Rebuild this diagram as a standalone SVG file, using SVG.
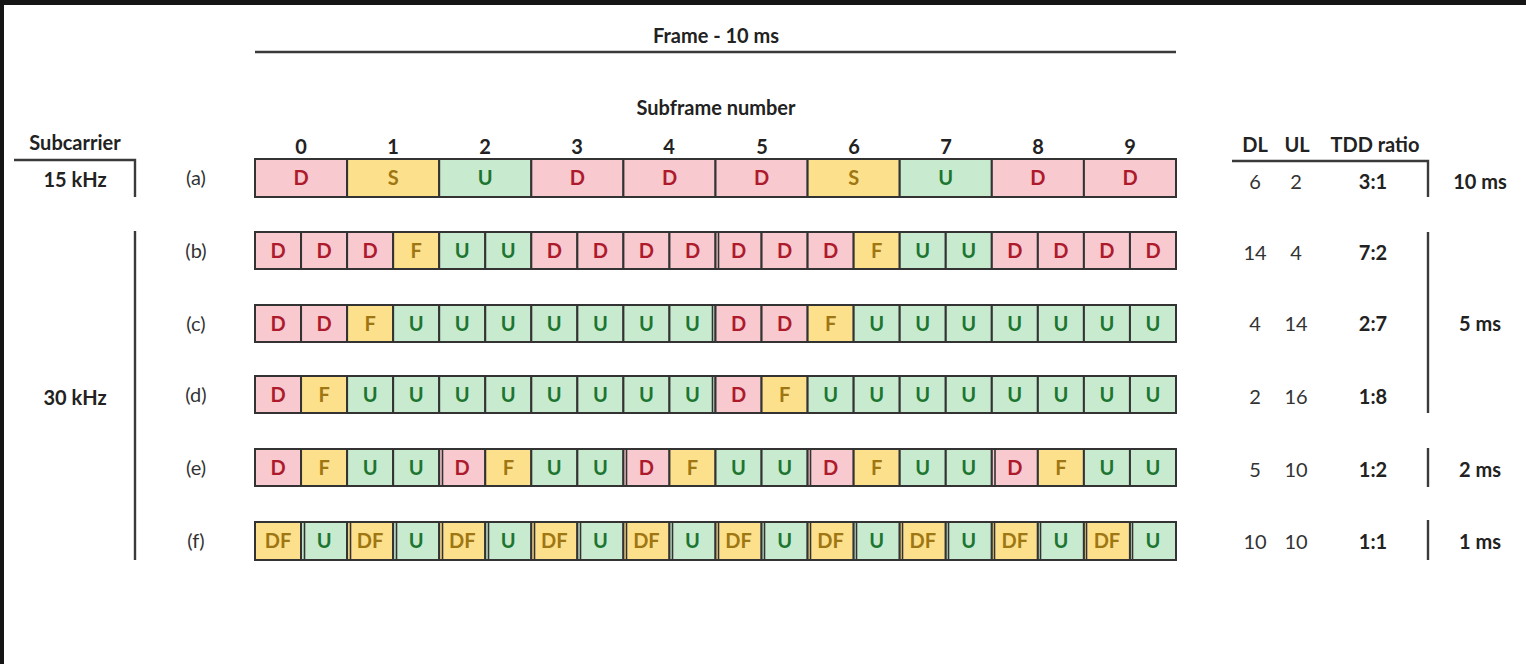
<svg xmlns="http://www.w3.org/2000/svg" width="1526" height="664" viewBox="0 0 1526 664">
<style>
text{font-family:Lato,"Liberation Sans",sans-serif;}
.b{font-weight:bold;fill:#222;font-size:20px;}
.r{fill:#333;font-size:20px;}
.c{text-anchor:middle;}
.ln{stroke:#3a3a3a;stroke-width:2.4;fill:none;}
.d{fill:#f8c9cf;}
.f{fill:#fde08c;}
.u{fill:#c8ebd0;}
.cell{stroke:#333;stroke-width:2;}
.t{font-size:20px;font-weight:bold;text-anchor:middle;}
.td{fill:#ad1a2c;}
.tf{fill:#9e7612;}
.tu{fill:#1d7530;}
.dbl{stroke:#333;stroke-width:1.6;}
</style>
<rect x="0" y="0" width="1526" height="664" fill="#151515"/>
<rect x="4" y="5" width="1522" height="659" fill="#ffffff"/>

<g id="header">
<text class="b c" x="716" y="43">Frame - 10 ms</text>
<line class="ln" x1="255" y1="52" x2="1176" y2="52"/>
<text class="b c" x="716" y="115">Subframe number</text>
<text class="b c" x="301" y="154">0</text>
<text class="b c" x="393" y="154">1</text>
<text class="b c" x="485" y="154">2</text>
<text class="b c" x="577" y="154">3</text>
<text class="b c" x="669" y="154">4</text>
<text class="b c" x="762" y="154">5</text>
<text class="b c" x="854" y="154">6</text>
<text class="b c" x="946" y="154">7</text>
<text class="b c" x="1038" y="154">8</text>
<text class="b c" x="1130" y="154">9</text>
</g>

<g id="subcarrier">
<text class="b c" x="75" y="150">Subcarrier</text>
<text class="b c" x="75" y="187">15 kHz</text>
<text class="b c" x="75" y="405">30 kHz</text>
</g>

<g id="rowlabels">
<text class="r c" x="196" y="185">(a)</text>
<text class="r c" x="196" y="258">(b)</text>
<text class="r c" x="196" y="331">(c)</text>
<text class="r c" x="196" y="402">(d)</text>
<text class="r c" x="196" y="475">(e)</text>
<text class="r c" x="196" y="548">(f)</text>
</g>

<g id="table-header">
<text class="b c" x="1255" y="152">DL</text>
<text class="b c" x="1297" y="152">UL</text>
<text class="b c" x="1375" y="152">TDD ratio</text>
</g>

<g id="values">
<text class="r c" x="1255" y="189">6</text><text class="r c" x="1296" y="189">2</text><text class="b c" x="1373" y="189">3:1</text>
<text class="r c" x="1255" y="260">14</text><text class="r c" x="1296" y="260">4</text><text class="b c" x="1373" y="260">7:2</text>
<text class="r c" x="1255" y="331">4</text><text class="r c" x="1296" y="331">14</text><text class="b c" x="1373" y="331">2:7</text>
<text class="r c" x="1255" y="404">2</text><text class="r c" x="1296" y="404">16</text><text class="b c" x="1373" y="404">1:8</text>
<text class="r c" x="1255" y="477">5</text><text class="r c" x="1296" y="477">10</text><text class="b c" x="1373" y="477">1:2</text>
<text class="r c" x="1255" y="549">10</text><text class="r c" x="1296" y="549">10</text><text class="b c" x="1373" y="549">1:1</text>
<text class="b c" x="1480" y="189">10 ms</text>
<text class="b c" x="1480" y="331">5 ms</text>
<text class="b c" x="1480" y="477">2 ms</text>
<text class="b c" x="1480" y="549">1 ms</text>
</g>

<g id="connectors">
<polyline class="ln" points="14,160 135,160 135,197"/>
<line class="ln" x1="135" y1="231" x2="135" y2="560"/>
<polyline class="ln" points="1232,161 1428,161 1428,197"/>
<line class="ln" x1="1428" y1="232" x2="1428" y2="413"/>
<line class="ln" x1="1428" y1="448" x2="1428" y2="487"/>
<line class="ln" x1="1428" y1="520" x2="1428" y2="560"/>
</g>

<g id="row-a">
<rect class="cell d" x="255" y="159" width="92.1" height="38"/><text class="t td" x="301" y="185">D</text>
<rect class="cell f" x="347.1" y="159" width="92.1" height="38"/><text class="t tf" x="393.2" y="185">S</text>
<rect class="cell u" x="439.2" y="159" width="92.1" height="38"/><text class="t tu" x="485.3" y="185">U</text>
<rect class="cell d" x="531.3" y="159" width="92.1" height="38"/><text class="t td" x="577.4" y="185">D</text>
<rect class="cell d" x="623.4" y="159" width="92.1" height="38"/><text class="t td" x="669.5" y="185">D</text>
<rect class="cell d" x="715.5" y="159" width="92.1" height="38"/><text class="t td" x="761.6" y="185">D</text>
<rect class="cell f" x="807.6" y="159" width="92.1" height="38"/><text class="t tf" x="853.7" y="185">S</text>
<rect class="cell u" x="899.7" y="159" width="92.1" height="38"/><text class="t tu" x="945.8" y="185">U</text>
<rect class="cell d" x="991.8" y="159" width="92.1" height="38"/><text class="t td" x="1037.9" y="185">D</text>
<rect class="cell d" x="1083.9" y="159" width="92.1" height="38"/><text class="t td" x="1130" y="185">D</text>
</g>

<g id="row-b">
<rect class="cell d" x="255" y="232" width="46.05" height="37"/><text class="t td" x="278" y="258">D</text>
<rect class="cell d" x="301.05" y="232" width="46.05" height="37"/><text class="t td" x="324.1" y="258">D</text>
<rect class="cell d" x="347.1" y="232" width="46.05" height="37"/><text class="t td" x="370.1" y="258">D</text>
<rect class="cell f" x="393.15" y="232" width="46.05" height="37"/><text class="t tf" x="416.2" y="258">F</text>
<rect class="cell u" x="439.2" y="232" width="46.05" height="37"/><text class="t tu" x="462.2" y="258">U</text>
<rect class="cell u" x="485.25" y="232" width="46.05" height="37"/><text class="t tu" x="508.3" y="258">U</text>
<rect class="cell d" x="531.3" y="232" width="46.05" height="37"/><text class="t td" x="554.3" y="258">D</text>
<rect class="cell d" x="577.35" y="232" width="46.05" height="37"/><text class="t td" x="600.4" y="258">D</text>
<rect class="cell d" x="623.4" y="232" width="46.05" height="37"/><text class="t td" x="646.4" y="258">D</text>
<rect class="cell d" x="669.45" y="232" width="46.05" height="37"/><text class="t td" x="692.5" y="258">D</text>
<rect class="cell d" x="715.5" y="232" width="46.05" height="37"/><text class="t td" x="738.5" y="258">D</text>
<rect class="cell d" x="761.55" y="232" width="46.05" height="37"/><text class="t td" x="784.6" y="258">D</text>
<rect class="cell d" x="807.6" y="232" width="46.05" height="37"/><text class="t td" x="830.6" y="258">D</text>
<rect class="cell f" x="853.65" y="232" width="46.05" height="37"/><text class="t tf" x="876.7" y="258">F</text>
<rect class="cell u" x="899.7" y="232" width="46.05" height="37"/><text class="t tu" x="922.7" y="258">U</text>
<rect class="cell u" x="945.75" y="232" width="46.05" height="37"/><text class="t tu" x="968.8" y="258">U</text>
<rect class="cell d" x="991.8" y="232" width="46.05" height="37"/><text class="t td" x="1014.8" y="258">D</text>
<rect class="cell d" x="1037.85" y="232" width="46.05" height="37"/><text class="t td" x="1060.9" y="258">D</text>
<rect class="cell d" x="1083.9" y="232" width="46.05" height="37"/><text class="t td" x="1106.9" y="258">D</text>
<rect class="cell d" x="1129.95" y="232" width="46.05" height="37"/><text class="t td" x="1153" y="258">D</text>
<line class="dbl" x1="718.5" y1="232" x2="718.5" y2="269"/>
</g>

<g id="row-c">
<rect class="cell d" x="255" y="305" width="46.05" height="37"/><text class="t td" x="278" y="331">D</text>
<rect class="cell d" x="301.05" y="305" width="46.05" height="37"/><text class="t td" x="324.1" y="331">D</text>
<rect class="cell f" x="347.1" y="305" width="46.05" height="37"/><text class="t tf" x="370.1" y="331">F</text>
<rect class="cell u" x="393.15" y="305" width="46.05" height="37"/><text class="t tu" x="416.2" y="331">U</text>
<rect class="cell u" x="439.2" y="305" width="46.05" height="37"/><text class="t tu" x="462.2" y="331">U</text>
<rect class="cell u" x="485.25" y="305" width="46.05" height="37"/><text class="t tu" x="508.3" y="331">U</text>
<rect class="cell u" x="531.3" y="305" width="46.05" height="37"/><text class="t tu" x="554.3" y="331">U</text>
<rect class="cell u" x="577.35" y="305" width="46.05" height="37"/><text class="t tu" x="600.4" y="331">U</text>
<rect class="cell u" x="623.4" y="305" width="46.05" height="37"/><text class="t tu" x="646.4" y="331">U</text>
<rect class="cell u" x="669.45" y="305" width="46.05" height="37"/><text class="t tu" x="692.5" y="331">U</text>
<rect class="cell d" x="715.5" y="305" width="46.05" height="37"/><text class="t td" x="738.5" y="331">D</text>
<rect class="cell d" x="761.55" y="305" width="46.05" height="37"/><text class="t td" x="784.6" y="331">D</text>
<rect class="cell f" x="807.6" y="305" width="46.05" height="37"/><text class="t tf" x="830.6" y="331">F</text>
<rect class="cell u" x="853.65" y="305" width="46.05" height="37"/><text class="t tu" x="876.7" y="331">U</text>
<rect class="cell u" x="899.7" y="305" width="46.05" height="37"/><text class="t tu" x="922.7" y="331">U</text>
<rect class="cell u" x="945.75" y="305" width="46.05" height="37"/><text class="t tu" x="968.8" y="331">U</text>
<rect class="cell u" x="991.8" y="305" width="46.05" height="37"/><text class="t tu" x="1014.8" y="331">U</text>
<rect class="cell u" x="1037.85" y="305" width="46.05" height="37"/><text class="t tu" x="1060.9" y="331">U</text>
<rect class="cell u" x="1083.9" y="305" width="46.05" height="37"/><text class="t tu" x="1106.9" y="331">U</text>
<rect class="cell u" x="1129.95" y="305" width="46.05" height="37"/><text class="t tu" x="1153" y="331">U</text>
<line class="dbl" x1="712.5" y1="305" x2="712.5" y2="342"/>
</g>

<g id="row-d">
<rect class="cell d" x="255" y="376" width="46.05" height="37"/><text class="t td" x="278" y="402">D</text>
<rect class="cell f" x="301.05" y="376" width="46.05" height="37"/><text class="t tf" x="324.1" y="402">F</text>
<rect class="cell u" x="347.1" y="376" width="46.05" height="37"/><text class="t tu" x="370.1" y="402">U</text>
<rect class="cell u" x="393.15" y="376" width="46.05" height="37"/><text class="t tu" x="416.2" y="402">U</text>
<rect class="cell u" x="439.2" y="376" width="46.05" height="37"/><text class="t tu" x="462.2" y="402">U</text>
<rect class="cell u" x="485.25" y="376" width="46.05" height="37"/><text class="t tu" x="508.3" y="402">U</text>
<rect class="cell u" x="531.3" y="376" width="46.05" height="37"/><text class="t tu" x="554.3" y="402">U</text>
<rect class="cell u" x="577.35" y="376" width="46.05" height="37"/><text class="t tu" x="600.4" y="402">U</text>
<rect class="cell u" x="623.4" y="376" width="46.05" height="37"/><text class="t tu" x="646.4" y="402">U</text>
<rect class="cell u" x="669.45" y="376" width="46.05" height="37"/><text class="t tu" x="692.5" y="402">U</text>
<rect class="cell d" x="715.5" y="376" width="46.05" height="37"/><text class="t td" x="738.5" y="402">D</text>
<rect class="cell f" x="761.55" y="376" width="46.05" height="37"/><text class="t tf" x="784.6" y="402">F</text>
<rect class="cell u" x="807.6" y="376" width="46.05" height="37"/><text class="t tu" x="830.6" y="402">U</text>
<rect class="cell u" x="853.65" y="376" width="46.05" height="37"/><text class="t tu" x="876.7" y="402">U</text>
<rect class="cell u" x="899.7" y="376" width="46.05" height="37"/><text class="t tu" x="922.7" y="402">U</text>
<rect class="cell u" x="945.75" y="376" width="46.05" height="37"/><text class="t tu" x="968.8" y="402">U</text>
<rect class="cell u" x="991.8" y="376" width="46.05" height="37"/><text class="t tu" x="1014.8" y="402">U</text>
<rect class="cell u" x="1037.85" y="376" width="46.05" height="37"/><text class="t tu" x="1060.9" y="402">U</text>
<rect class="cell u" x="1083.9" y="376" width="46.05" height="37"/><text class="t tu" x="1106.9" y="402">U</text>
<rect class="cell u" x="1129.95" y="376" width="46.05" height="37"/><text class="t tu" x="1153" y="402">U</text>
<line class="dbl" x1="712.5" y1="376" x2="712.5" y2="413"/>
</g>

<g id="row-e">
<rect class="cell d" x="255" y="449" width="46.05" height="37"/><text class="t td" x="278" y="475">D</text>
<rect class="cell f" x="301.05" y="449" width="46.05" height="37"/><text class="t tf" x="324.1" y="475">F</text>
<rect class="cell u" x="347.1" y="449" width="46.05" height="37"/><text class="t tu" x="370.1" y="475">U</text>
<rect class="cell u" x="393.15" y="449" width="46.05" height="37"/><text class="t tu" x="416.2" y="475">U</text>
<rect class="cell d" x="439.2" y="449" width="46.05" height="37"/><text class="t td" x="462.2" y="475">D</text>
<rect class="cell f" x="485.25" y="449" width="46.05" height="37"/><text class="t tf" x="508.3" y="475">F</text>
<rect class="cell u" x="531.3" y="449" width="46.05" height="37"/><text class="t tu" x="554.3" y="475">U</text>
<rect class="cell u" x="577.35" y="449" width="46.05" height="37"/><text class="t tu" x="600.4" y="475">U</text>
<rect class="cell d" x="623.4" y="449" width="46.05" height="37"/><text class="t td" x="646.4" y="475">D</text>
<rect class="cell f" x="669.45" y="449" width="46.05" height="37"/><text class="t tf" x="692.5" y="475">F</text>
<rect class="cell u" x="715.5" y="449" width="46.05" height="37"/><text class="t tu" x="738.5" y="475">U</text>
<rect class="cell u" x="761.55" y="449" width="46.05" height="37"/><text class="t tu" x="784.6" y="475">U</text>
<rect class="cell d" x="807.6" y="449" width="46.05" height="37"/><text class="t td" x="830.6" y="475">D</text>
<rect class="cell f" x="853.65" y="449" width="46.05" height="37"/><text class="t tf" x="876.7" y="475">F</text>
<rect class="cell u" x="899.7" y="449" width="46.05" height="37"/><text class="t tu" x="922.7" y="475">U</text>
<rect class="cell u" x="945.75" y="449" width="46.05" height="37"/><text class="t tu" x="968.8" y="475">U</text>
<rect class="cell d" x="991.8" y="449" width="46.05" height="37"/><text class="t td" x="1014.8" y="475">D</text>
<rect class="cell f" x="1037.85" y="449" width="46.05" height="37"/><text class="t tf" x="1060.9" y="475">F</text>
<rect class="cell u" x="1083.9" y="449" width="46.05" height="37"/><text class="t tu" x="1106.9" y="475">U</text>
<rect class="cell u" x="1129.95" y="449" width="46.05" height="37"/><text class="t tu" x="1153" y="475">U</text>
<line class="dbl" x1="442.5" y1="449" x2="442.5" y2="486"/>
<line class="dbl" x1="626.5" y1="449" x2="626.5" y2="486"/>
<line class="dbl" x1="810.5" y1="449" x2="810.5" y2="486"/>
<line class="dbl" x1="995" y1="449" x2="995" y2="486"/>
</g>

<g id="row-f">
<rect class="cell f" x="255" y="522" width="46.05" height="38"/><text class="t tf" x="278" y="548">DF</text>
<rect class="cell u" x="301.05" y="522" width="46.05" height="38"/><text class="t tu" x="324.1" y="548">U</text>
<rect class="cell f" x="347.1" y="522" width="46.05" height="38"/><text class="t tf" x="370.1" y="548">DF</text>
<rect class="cell u" x="393.15" y="522" width="46.05" height="38"/><text class="t tu" x="416.2" y="548">U</text>
<rect class="cell f" x="439.2" y="522" width="46.05" height="38"/><text class="t tf" x="462.2" y="548">DF</text>
<rect class="cell u" x="485.25" y="522" width="46.05" height="38"/><text class="t tu" x="508.3" y="548">U</text>
<rect class="cell f" x="531.3" y="522" width="46.05" height="38"/><text class="t tf" x="554.3" y="548">DF</text>
<rect class="cell u" x="577.35" y="522" width="46.05" height="38"/><text class="t tu" x="600.4" y="548">U</text>
<rect class="cell f" x="623.4" y="522" width="46.05" height="38"/><text class="t tf" x="646.4" y="548">DF</text>
<rect class="cell u" x="669.45" y="522" width="46.05" height="38"/><text class="t tu" x="692.5" y="548">U</text>
<rect class="cell f" x="715.5" y="522" width="46.05" height="38"/><text class="t tf" x="738.5" y="548">DF</text>
<rect class="cell u" x="761.55" y="522" width="46.05" height="38"/><text class="t tu" x="784.6" y="548">U</text>
<rect class="cell f" x="807.6" y="522" width="46.05" height="38"/><text class="t tf" x="830.6" y="548">DF</text>
<rect class="cell u" x="853.65" y="522" width="46.05" height="38"/><text class="t tu" x="876.7" y="548">U</text>
<rect class="cell f" x="899.7" y="522" width="46.05" height="38"/><text class="t tf" x="922.7" y="548">DF</text>
<rect class="cell u" x="945.75" y="522" width="46.05" height="38"/><text class="t tu" x="968.8" y="548">U</text>
<rect class="cell f" x="991.8" y="522" width="46.05" height="38"/><text class="t tf" x="1014.8" y="548">DF</text>
<rect class="cell u" x="1037.85" y="522" width="46.05" height="38"/><text class="t tu" x="1060.9" y="548">U</text>
<rect class="cell f" x="1083.9" y="522" width="46.05" height="38"/><text class="t tf" x="1106.9" y="548">DF</text>
<rect class="cell u" x="1129.95" y="522" width="46.05" height="38"/><text class="t tu" x="1153" y="548">U</text>
<line class="dbl" x1="304.5" y1="522" x2="304.5" y2="560"/>
<line class="dbl" x1="350.5" y1="522" x2="350.5" y2="560"/>
<line class="dbl" x1="396.5" y1="522" x2="396.5" y2="560"/>
<line class="dbl" x1="442.5" y1="522" x2="442.5" y2="560"/>
<line class="dbl" x1="488.5" y1="522" x2="488.5" y2="560"/>
<line class="dbl" x1="534.5" y1="522" x2="534.5" y2="560"/>
<line class="dbl" x1="580.5" y1="522" x2="580.5" y2="560"/>
<line class="dbl" x1="626.5" y1="522" x2="626.5" y2="560"/>
<line class="dbl" x1="672.5" y1="522" x2="672.5" y2="560"/>
<line class="dbl" x1="718.5" y1="522" x2="718.5" y2="560"/>
<line class="dbl" x1="764.5" y1="522" x2="764.5" y2="560"/>
<line class="dbl" x1="810.5" y1="522" x2="810.5" y2="560"/>
<line class="dbl" x1="856.5" y1="522" x2="856.5" y2="560"/>
<line class="dbl" x1="902.5" y1="522" x2="902.5" y2="560"/>
<line class="dbl" x1="948.5" y1="522" x2="948.5" y2="560"/>
<line class="dbl" x1="994.5" y1="522" x2="994.5" y2="560"/>
<line class="dbl" x1="1040.5" y1="522" x2="1040.5" y2="560"/>
<line class="dbl" x1="1086.5" y1="522" x2="1086.5" y2="560"/>
<line class="dbl" x1="1132.5" y1="522" x2="1132.5" y2="560"/>
</g>
</svg>
